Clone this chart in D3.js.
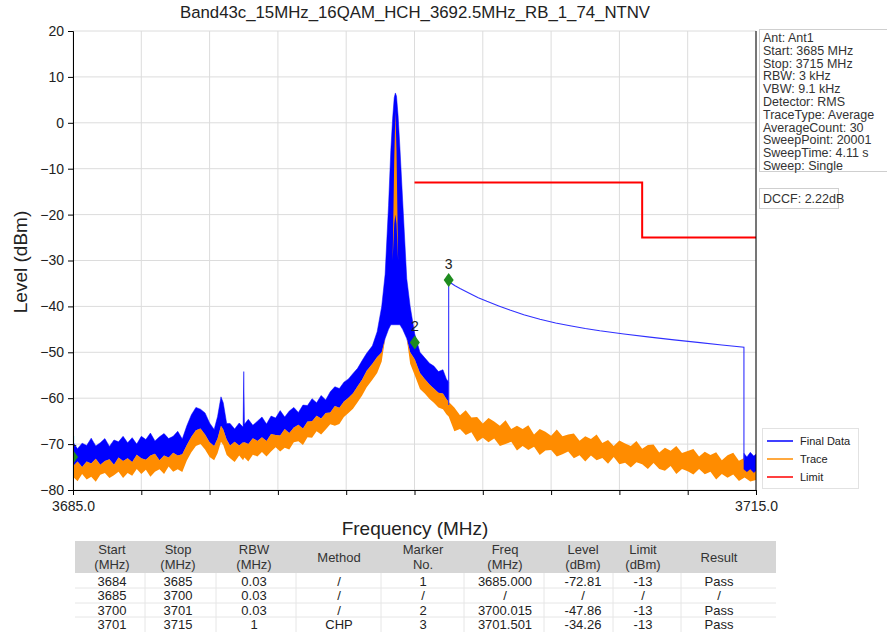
<!DOCTYPE html>
<html>
<head>
<meta charset="utf-8">
<script src="https://cdn.jsdelivr.net/npm/d3@7"></script>
<style>
  body { margin: 0; background: #fff; }
  text { font-family: "Liberation Sans", Arial, sans-serif; fill: #222; }
</style>
</head>
<body>
<div id="chart"></div>
<script>
// ---- data ----
var chartTitle = "Band43c_15MHz_16QAM_HCH_3692.5MHz_RB_1_74_NTNV";

var yTicks = [-80, -70, -60, -50, -40, -30, -20, -10, 0, 10, 20];
var xTicks = [3685, 3688, 3691, 3694, 3697, 3700, 3703, 3706, 3709, 3712, 3715];
var xTickLabels = ["3685.0", "", "", "", "", "", "", "", "", "", "3715.0"];

// noisy part, 3685 - 3701.5 MHz (shared frequency grid)
var leftFreq = [3685.0,3685.2,3685.4,3685.6,3685.8,3686.0,3686.2,3686.4,3686.6,3686.8,
  3687.0,3687.2,3687.4,3687.6,3687.8,3688.0,3688.2,3688.4,3688.6,3688.8,3689.0,3689.2,3689.4,3689.6,3689.8,
  3690.00,3690.20,3690.40,3690.60,3690.80,3691.00,3691.20,3691.35,3691.50,3691.60,3691.75,
  3691.9,3692.1,3692.3,3692.47,3692.50,3692.53,3692.7,3692.9,3693.1,3693.3,3693.5,3693.7,3693.9,
  3694.1,3694.3,3694.5,3694.7,3694.9,3695.1,3695.3,3695.5,3695.7,3695.9,3696.1,3696.3,3696.5,3696.7,3696.9,
  3697.1,3697.3,3697.5,3697.7,3697.9,
  3698.15,3698.36,3698.56,3698.71,3698.86,3698.96,3699.04,3699.11,3699.16,3699.21,3699.28,3699.36,3699.48,3699.66,3699.81,
  3700.01,3700.24,3700.45,3700.66,3700.85,3701.05,3701.25,3701.40,3701.50];

// Final Data (blue) envelope
var blueHi = [-69.6,-71.0,-69.8,-70.3,-68.7,-70.4,-69.7,-68.8,-70.5,-69.1,
  -69.5,-68.3,-69.7,-68.6,-70.0,-68.3,-69.0,-67.6,-69.3,-68.4,-67.7,-68.8,-68.3,-67.2,-68.9,
  -66.0,-63.6,-62.0,-62.4,-63.2,-65.4,-66.8,-64.0,-59.7,-61.0,-65.5,
  -65.5,-66.7,-65.4,-66.3,-54.2,-65.7,-64.6,-65.9,-65.0,-64.1,-65.6,-63.9,-64.3,
  -62.7,-64.1,-62.8,-62.0,-63.1,-61.5,-61.6,-60.1,-61.0,-59.4,-60.4,-58.6,-57.5,-57.9,-56.5,
  -55.8,-54.6,-53.5,-51.8,-50.2,
  -48.6,-45.5,-40.0,-33.0,-18.0,-6.0,1.0,5.5,6.5,5.8,1.5,-5.5,-17.0,-34.0,-40.0,
  -46.0,-50.0,-51.2,-52.4,-53.0,-54.2,-53.8,-55.8,-56.5];

var blueLo = [-74.8,-73.8,-75.0,-73.8,-74.2,-73.2,-74.5,-73.7,-73.3,-74.5,
  -72.9,-73.7,-73.1,-73.9,-72.3,-73.1,-73.4,-72.5,-72.1,-73.5,-72.5,-72.9,-71.9,-72.5,-72.2,
  -70.2,-68.4,-67.0,-66.6,-67.9,-69.6,-70.4,-68.8,-66.0,-66.8,-69.0,
  -70.3,-69.5,-70.3,-69.6,-69.7,-69.6,-70.0,-68.7,-69.3,-68.5,-69.3,-67.8,-68.0,
  -68.1,-66.7,-67.6,-66.4,-65.8,-66.6,-65.1,-65.0,-63.8,-64.4,-63.2,-63.1,-61.7,-62.1,-60.7,
  -59.9,-58.9,-57.4,-55.9,-54.0,
  -52.5,-51.0,-50.0,-47.0,-45.0,-44.0,-44.0,-44.0,-44.0,-44.0,-44.0,-44.0,-45.0,-47.0,-50.0,
  -51.5,-54.5,-55.8,-57.0,-57.9,-58.8,-59.0,-60.2,-60.8];

// Trace (orange) envelope, same grid
var orangeHi = [-74.8,-73.8,-75.0,-73.8,-74.2,-73.2,-74.5,-73.7,-73.3,-74.5,
  -72.9,-73.7,-73.1,-73.9,-72.3,-73.1,-73.4,-72.5,-72.1,-73.5,-72.5,-72.9,-71.9,-72.5,-72.2,
  -70.2,-68.4,-67.0,-66.6,-67.9,-69.6,-70.4,-68.8,-66.0,-66.8,-69.0,
  -70.3,-69.5,-70.3,-69.6,-69.7,-69.6,-70.0,-68.7,-69.3,-68.5,-69.3,-67.8,-68.0,
  -68.1,-66.7,-67.6,-66.4,-65.8,-66.6,-65.1,-65.0,-63.8,-64.4,-63.2,-63.1,-61.7,-62.1,-60.7,
  -59.9,-58.9,-57.4,-55.9,-54.0,
  -52.5,-51.0,-50.0,-47.0,-45.0,-44.0,-30.0,-8.0,2.4,-6.0,-30.0,-44.0,-45.0,-47.0,-50.0,
  -51.5,-54.5,-55.8,-57.0,-57.9,-58.8,-59.0,-60.2,-60.8];

var orangeLo = [-77.1,-78.1,-76.5,-77.7,-77.1,-78.2,-76.7,-76.3,-77.4,-76.8,
  -76.0,-77.4,-76.3,-76.9,-75.4,-76.5,-75.6,-77.1,-76.0,-75.5,-76.5,-74.9,-76.0,-75.5,-76.1,
  -73.6,-71.8,-70.4,-70.0,-71.2,-72.8,-73.5,-72.0,-69.5,-70.2,-72.4,
  -73.1,-73.9,-72.5,-73.5,-73.2,-72.9,-73.8,-72.3,-72.7,-71.7,-72.7,-71.6,-70.7,
  -71.6,-70.8,-71.2,-69.6,-69.4,-70.2,-68.5,-68.6,-67.2,-67.9,-66.8,-65.7,-66.0,-65.6,-64.1,
  -63.2,-62.3,-60.9,-59.4,-57.6,
  -56.0,-54.5,-52.0,-47.0,-45.0,-44.0,-30.0,-22.0,-20.0,-22.0,-30.0,-44.0,-45.0,-47.0,-52.5,
  -55.0,-58.0,-59.0,-60.2,-61.0,-62.0,-62.4,-63.5,-64.0];

// Trace (orange) above 3701.5 MHz
var rightFreq = [3701.50,3701.75,3702.00,3702.25,3702.50,3702.75,3703.00,3703.25,3703.50,3703.75,
  3704.00,3704.25,3704.50,3704.75,3705.00,3705.25,3705.50,3705.75,3706.00,3706.25,
  3706.50,3706.75,3707.00,3707.25,3707.50,3707.75,3708.00,3708.25,3708.50,3708.75,
  3709.00,3709.25,3709.50,3709.75,3710.00,3710.25,3710.50,3710.75,3711.00,3711.25,
  3711.50,3711.75,3712.00,3712.25,3712.50,3712.75,3713.00,3713.25,3713.50,3713.75,
  3714.00,3714.25,3714.50,3714.75,3715.00];
var orangeHiR = [-60.6,-62.0,-63.7,-62.6,-64.2,-64.1,-65.5,-64.3,-65.1,-66.0,
  -64.8,-66.7,-66.0,-66.7,-65.9,-67.9,-66.7,-67.3,-68.2,-66.8,
  -68.3,-67.9,-67.7,-69.25,-68.3,-68.9,-67.9,-69.75,-69.1,-70.4,
  -69.2,-69.85,-70.4,-69.35,-71.0,-70.2,-70.1,-71.85,-70.8,-71.45,
  -70.4,-71.95,-71.5,-71.05,-72.7,-71.65,-72.4,-71.8,-73.5,-72.45,
  -71.9,-73.65,-73.0,-73.75,-73.5];
var orangeLoR = [-64.0,-67.2,-66.7,-68.0,-67.4,-69.5,-68.6,-69.6,-68.8,-70.4,
  -70.0,-69.5,-71.4,-70.4,-71.3,-70.6,-72.4,-71.4,-71.3,-72.7,
  -72.2,-71.6,-73.1,-72.45,-73.8,-72.5,-73.5,-73.05,-74.3,-72.8,
  -74.4,-74.05,-75.1,-73.95,-74.4,-75.4,-74.1,-75.45,-75.8,-74.75,
  -76.5,-75.45,-75.9,-76.65,-75.4,-76.55,-76.0,-77.7,-76.5,-77.35,
  -76.6,-78.05,-77.3,-78.15,-77.8];

// Final Data (blue): CHP part and the last noisy bit
var finalFreq = [3701.501,3701.501,3701.6,3701.78,3702.0,3702.43,3702.8,3703.18,3703.7,3704.19,3704.8,
  3705.51,3706.2,3706.83,3707.5,3708.14,3709.2,3710.34,3711.4,3712.54,3713.5,3714.47,3714.47];
var finalLevel = [-61.5,-34.26,-34.9,-35.5,-36.1,-37.2,-38.1,-38.9,-39.9,-40.8,-41.8,
  -42.8,-43.6,-44.2,-44.8,-45.3,-46.0,-46.7,-47.3,-47.9,-48.4,-48.9,-73.5];
var blueFreqR = [3714.47,3714.60,3714.75,3714.90,3715.00];
var blueHiR = [-72.0,-72.8,-71.8,-72.6,-72.2];
var blueLoR = [-75.5,-76.0,-75.4,-76.2,-75.8];

// Limit line
var limitFreq = [3700, 3710, 3710, 3715];
var limitLevel = [-13, -13, -25, -25];

// Markers
var markerNo = ["1", "2", "3"];
var markerFreq = [3685.000, 3700.015, 3701.501];
var markerLevel = [-72.81, -47.86, -34.26];

// Info panel
var infoLines = ["Ant: Ant1", "Start: 3685 MHz", "Stop: 3715 MHz", "RBW: 3 kHz", "VBW: 9.1 kHz",
  "Detector: RMS", "TraceType: Average", "AverageCount: 30", "SweepPoint: 20001",
  "SweepTime: 4.11 s", "Sweep: Single"];
var dccfText = "DCCF: 2.22dB";

var legendNames = ["Final Data", "Trace", "Limit"];
var legendColors = ["#0000ff", "#ff8c00", "#ff0000"];

// Result table
var tableHeader = [["Start", "(MHz)"], ["Stop", "(MHz)"], ["RBW", "(MHz)"], ["Method"], ["Marker", "No."],
  ["Freq", "(MHz)"], ["Level", "(dBm)"], ["Limit", "(dBm)"], ["Result"]];
var tableRows = [
  ["3684", "3685", "0.03", "/", "1", "3685.000", "-72.81", "-13", "Pass"],
  ["3685", "3700", "0.03", "/", "/", "/", "/", "/", "/"],
  ["3700", "3701", "0.03", "/", "2", "3700.015", "-47.86", "-13", "Pass"],
  ["3701", "3715", "1", "CHP", "3", "3701.501", "-34.26", "-13", "Pass"]];

// ---- layout ----
var svgWidth = 887;
var svgHeight = 640;
var plot = {left: 73, right: 756, top: 31, bottom: 490};

var svg = d3.select("#chart")
    .append("svg")
    .attr("width", svgWidth)
    .attr("height", svgHeight);

var xScale = d3.scaleLinear().domain([3685, 3715]).range([plot.left, plot.right]);
var yScale = d3.scaleLinear().domain([-80, 20]).range([plot.bottom, plot.top]);

svg.append("defs").append("clipPath").attr("id", "clip")
  .append("rect")
    .attr("x", plot.left).attr("y", plot.top)
    .attr("width", plot.right - plot.left).attr("height", plot.bottom - plot.top);

// title
svg.append("text")
    .attr("x", 415).attr("y", 18)
    .attr("text-anchor", "middle")
    .style("font-size", "16.8px")
    .text(chartTitle);

// grid
var grid = svg.append("g");
grid.selectAll(".hg").data(yTicks).enter().append("line")
    .attr("x1", plot.left).attr("x2", plot.right)
    .attr("y1", d => yScale(d)).attr("y2", d => yScale(d))
    .attr("stroke", "#dcdcdc").attr("stroke-width", 1);
grid.selectAll(".vg").data(xTicks).enter().append("line")
    .attr("x1", d => xScale(d)).attr("x2", d => xScale(d))
    .attr("y1", plot.top).attr("y2", plot.bottom)
    .attr("stroke", "#dcdcdc").attr("stroke-width", 1);

// traces
var traces = svg.append("g").attr("clip-path", "url(#clip)");

var band = d3.area()
    .x(d => xScale(d.f))
    .y0(d => yScale(d.lo))
    .y1(d => yScale(d.hi));

function zipBand(fs, his, los) {
  return fs.map((f, i) => ({f: f, hi: his[i], lo: los[i]}));
}

// Final Data, noisy part below 3701.5 MHz
traces.append("path")
    .datum(zipBand(leftFreq, blueHi, blueLo))
    .attr("d", band)
    .attr("fill", "#0000ff")
    .attr("stroke", "#0000ff").attr("stroke-width", 0.5);

// Trace
var orangeData = zipBand(leftFreq, orangeHi, orangeLo).concat(zipBand(rightFreq, orangeHiR, orangeLoR).slice(1));
traces.append("path")
    .datum(orangeData)
    .attr("d", band)
    .attr("fill", "#ff8c00");

// Final Data, last noisy bit and CHP line
traces.append("path")
    .datum(zipBand(blueFreqR, blueHiR, blueLoR))
    .attr("d", band)
    .attr("fill", "#0000ff")
    .attr("stroke", "#0000ff").attr("stroke-width", 0.5);

var lineGen = d3.line().x(d => xScale(d[0])).y(d => yScale(d[1]));

traces.append("path")
    .datum(finalFreq.map((f, i) => [f, finalLevel[i]]))
    .attr("d", lineGen)
    .attr("fill", "none")
    .attr("stroke", "#3030ff").attr("stroke-width", 1.1);

traces.append("path")
    .datum(limitFreq.map((f, i) => [f, limitLevel[i]]))
    .attr("d", lineGen)
    .attr("fill", "none")
    .attr("stroke", "#ff0000").attr("stroke-width", 2);

// markers
var markers = traces.selectAll(".mk").data(markerNo).enter().append("g")
    .attr("transform", (d, i) => `translate(${xScale(markerFreq[i])}, ${yScale(markerLevel[i])})`);
markers.append("path")
    .attr("d", "M0,-7L5,0L0,7L-5,0Z")
    .attr("fill", "#1e8c1e");
markers.append("text")
    .attr("y", -11)
    .attr("text-anchor", "middle")
    .style("font-size", "14px")
    .text(d => d);

// axes
var yAxis = d3.axisLeft(yScale).tickValues(yTicks).tickSize(5).tickPadding(4);
var xAxis = d3.axisBottom(xScale).tickValues(xTicks).tickSize(5).tickPadding(6)
    .tickFormat((d, i) => xTickLabels[i]);

svg.append("g")
    .attr("transform", `translate(${plot.left}, 0)`)
    .call(yAxis)
    .call(g => g.selectAll("text").style("font-size", "14px").style("fill", "#222"));
svg.append("g")
    .attr("transform", `translate(0, ${plot.bottom})`)
    .call(xAxis)
    .call(g => g.selectAll("text").style("font-size", "14px").style("fill", "#222"));

svg.append("line")
    .attr("x1", plot.right).attr("x2", plot.right)
    .attr("y1", plot.top).attr("y2", plot.bottom)
    .attr("stroke", "#000").attr("stroke-width", 1);

// axis labels
svg.append("text")
    .attr("transform", "rotate(-90)")
    .attr("x", -262).attr("y", 27)
    .attr("text-anchor", "middle")
    .style("font-size", "19px")
    .text("Level (dBm)");

svg.append("text")
    .attr("x", 415).attr("y", 535)
    .attr("text-anchor", "middle")
    .style("font-size", "19px")
    .text("Frequency (MHz)");

// info panel
svg.append("rect")
    .attr("x", 759.5).attr("y", 29.5).attr("width", 135).attr("height", 142)
    .attr("fill", "#fff").attr("stroke", "#cfcfcf");
svg.append("g").selectAll("text").data(infoLines).enter().append("text")
    .attr("x", 763).attr("y", (d, i) => 42 + i * 12.8)
    .style("font-size", "12.5px")
    .style("fill", "#333")
    .text(d => d);

svg.append("rect")
    .attr("x", 759.5).attr("y", 188.5).attr("width", 79).attr("height", 20)
    .attr("fill", "#fff").attr("stroke", "#cfcfcf");
svg.append("text")
    .attr("x", 763).attr("y", 203)
    .style("font-size", "12.5px")
    .style("fill", "#333")
    .text(dccfText);

// legend
var legend = svg.append("g");
legend.append("rect")
    .attr("x", 762.5).attr("y", 428.5).attr("width", 96).attr("height", 60)
    .attr("fill", "#fff").attr("stroke", "#e2e2e2");
var lg = legend.selectAll(".lg").data(legendNames).enter().append("g")
    .attr("transform", (d, i) => `translate(767, ${441 + i * 18})`);
lg.append("line")
    .attr("x1", 0).attr("x2", 26)
    .attr("stroke", (d, i) => legendColors[i]).attr("stroke-width", 1.5);
lg.append("text")
    .attr("x", 33).attr("y", 4)
    .style("font-size", "11px")
    .text(d => d);

// table
var colX = [112, 178, 254, 339, 423, 505, 583, 643, 719];
var colEdges = [145, 216, 296, 381, 464, 544, 613, 681];
var table = svg.append("g");
table.append("rect")
    .attr("x", 75).attr("y", 541).attr("width", 701).attr("height", 32)
    .attr("fill", "#d6d6d6");
table.selectAll(".vs").data(colEdges).enter().append("line")
    .attr("x1", d => d).attr("x2", d => d)
    .attr("y1", 573).attr("y2", 632)
    .attr("stroke", "#e6e6e6");
table.selectAll(".hs").data([588, 603, 617]).enter().append("line")
    .attr("x1", 75).attr("x2", 776)
    .attr("y1", d => d).attr("y2", d => d)
    .attr("stroke", "#e6e6e6");

var head = table.selectAll(".th").data(tableHeader).enter().append("text")
    .attr("x", (d, i) => colX[i])
    .attr("text-anchor", "middle")
    .style("font-size", "13px")
    .style("fill", "#333");
head.each(function(d) {
  var t = d3.select(this);
  if (d.length === 1) {
    t.append("tspan").attr("x", t.attr("x")).attr("y", 562).text(d[0]);
  } else {
    t.append("tspan").attr("x", t.attr("x")).attr("y", 554).text(d[0]);
    t.append("tspan").attr("x", t.attr("x")).attr("y", 569).text(d[1]);
  }
});

tableRows.forEach(function(row, r) {
  table.selectAll(".r" + r).data(row).enter().append("text")
      .attr("x", (d, i) => colX[i])
      .attr("y", 586 + r * 14.3)
      .attr("text-anchor", "middle")
      .style("font-size", "13px")
      .style("fill", "#222")
      .text(d => d);
});
</script>
</body>
</html>
